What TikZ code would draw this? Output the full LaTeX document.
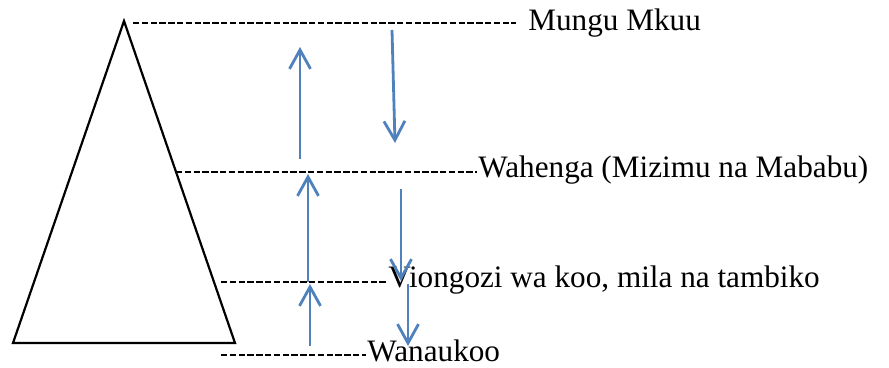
\documentclass[tikz,border=0pt]{standalone}
\usepackage{fontspec}
\setmainfont{Liberation Serif}
\usetikzlibrary{arrows.meta}
\definecolor{arrblue}{HTML}{4F81BD}
\tikzset{
  lbl/.style={anchor=base west, inner sep=0pt, font=\fontsize{15.6}{18}\selectfont},
  dashline/.style={draw=black, line width=0.8pt, dash pattern=on 3.2pt off 1.2pt},
  flow/.style={draw=arrblue, line width=1.4pt, -{Straight Barb[length=9.5pt, width=10.5pt, line width=1.4pt]}},
  tri/.style={draw=black, line width=1.1pt}
}
\begin{document}
\begin{tikzpicture}[x=0.5pt, y=-0.5pt]
\useasboundingbox (0,0) rectangle (889,368);
% triangle
\coordinate (apex) at (124,21);
\coordinate (bl) at (13,343);
\coordinate (br) at (235,343);
\draw[tri, line join=miter] (apex) -- (bl) -- (br) -- cycle;
% labels
\node[lbl] (mungu) at (528,31) {Mungu Mkuu};
\node[lbl] (wahenga) at (478,178) {Wahenga (Mizimu na Mababu)};
\node[lbl] (viongozi) at (388,288) {Viongozi wa koo, mila na tambiko};
\node[lbl] (wanaukoo) at (367,362) {Wanaukoo};
% dashed lines
\coordinate (d1s) at (133,23);  \coordinate (d1e) at (516,23);
\coordinate (d2s) at (176,172); \coordinate (d2e) at (477,172);
\coordinate (d3s) at (221,282); \coordinate (d3e) at (387,282);
\coordinate (d4s) at (221,355); \coordinate (d4e) at (366,355);
\draw[dashline] (d1s) -- (d1e);
\draw[dashline] (d2s) -- (d2e);
\draw[dashline] (d3s) -- (d3e);
\draw[dashline] (d4s) -- (d4e);
% up arrows
\coordinate (u1s) at (300,159); \coordinate (u1e) at (300,47);
\coordinate (u2s) at (308,282); \coordinate (u2e) at (308,174);
\coordinate (u3s) at (310,346); \coordinate (u3e) at (310,284);
\draw[flow] (u1s) -- (u1e);
\draw[flow] (u2s) -- (u2e);
\draw[flow] (u3s) -- (u3e);
% down arrows
\coordinate (w1s) at (392,30);  \coordinate (w1e) at (395,143);
\coordinate (w2s) at (401,189); \coordinate (w2e) at (401,281);
\coordinate (w3s) at (408,284); \coordinate (w3e) at (408,346);
\draw[flow] (w1s) -- (w1e);
\draw[flow] (w2s) -- (w2e);
\draw[flow] (w3s) -- (w3e);
\end{tikzpicture}
\end{document}
